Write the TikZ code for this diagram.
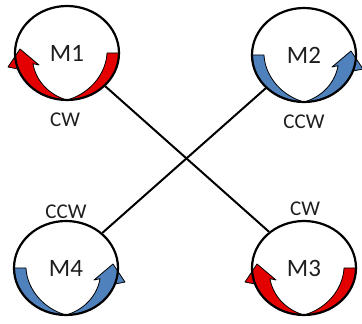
\documentclass[tikz,border=0pt]{standalone}
\usepackage{fontspec}
\setmainfont{Carlito}
\usetikzlibrary{shapes.geometric,backgrounds}
\definecolor{bandred}{RGB}{228,0,0}
\definecolor{bandblue}{RGB}{79,129,189}
\definecolor{txt}{RGB}{30,30,30}
\tikzset{
  motor/.style={ellipse, draw=black, line width=2.2pt, minimum width=104pt,
    minimum height=94pt, inner sep=0pt, font=\fontsize{25}{25}\selectfont, text=txt},
  dirlabel/.style={font=\fontsize{21}{21}\selectfont, text=txt, inner sep=0pt},
  link/.style={line width=2pt, draw=black},
  bandpath/.style={draw=black, line width=0.8pt, line join=round}
}
\newcommand\motorband[1]{%
  \path[bandpath, fill=#1]
    plot[domain=0:-160, samples=60] ({52*cos(\x)}, {47*sin(\x)})
    -- (-59,-14) -- (-47,4) -- (-28,-12)
    -- plot[domain=-160:0, samples=60]
       ({(52-(12-0.03*\x)*abs(cos(\x)))*cos(\x)}, {(47-(12-0.03*\x)*abs(cos(\x)))*sin(\x)})
    -- cycle;}
\begin{document}
\begin{tikzpicture}[x=1pt, y=1pt]
\useasboundingbox (0,0) rectangle (362,324);
\node[motor] (m1) at (67,271) {M1};
\node[motor] (m2) at (304,269) {M2};
\node[motor] (m3) at (304,56) {M3};
\node[motor] (m4) at (66,56) {M4};
\node[dirlabel] (l1) at (65,204) {CW};
\node[dirlabel] (l2) at (304,202) {CCW};
\node[dirlabel] (l3) at (305,115) {CW};
\node[dirlabel] (l4) at (66,112) {CCW};
\begin{scope}[on background layer]
  \draw[link] (m1.-41) -- (m3.134);
  \draw[link] (m2.-139) -- (m4.44);
  \begin{scope}[shift={(m1.center)}] \motorband{bandred} \end{scope}
  \begin{scope}[shift={(m3.center)}] \motorband{bandred} \end{scope}
  \begin{scope}[shift={(m2.center)}, xscale=-1] \motorband{bandblue} \end{scope}
  \begin{scope}[shift={(m4.center)}, xscale=-1] \motorband{bandblue} \end{scope}
\end{scope}
\end{tikzpicture}
\end{document}
